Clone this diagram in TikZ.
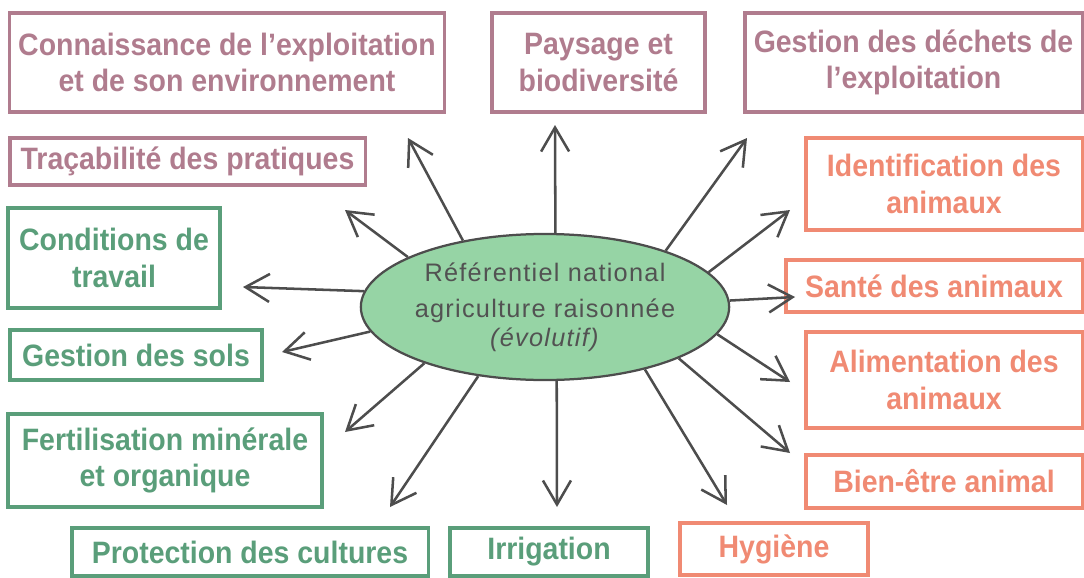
\documentclass[tikz,border=0pt]{standalone}
\usepackage{fontspec}
\usetikzlibrary{shapes.geometric,arrows.meta}
\newfontfamily\boxfont[FakeStretch=0.92]{Liberation Sans}
\newfontfamily\reffont[LetterSpace=5]{Liberation Sans}
\definecolor{mauve}{RGB}{176,124,142}
\definecolor{vert}{RGB}{90,158,122}
\definecolor{saumon}{RGB}{240,138,115}
\definecolor{ellfill}{RGB}{150,212,165}
\definecolor{fleche}{RGB}{77,77,77}
\begin{document}
\begin{tikzpicture}[x=0.025cm,y=-0.025cm]
\tikzstyle{every node}+=[inner sep=0pt]
\tikzstyle{box}=[draw, line width=2.2pt, align=center, font=\boxfont\bfseries\fontsize{22}{26}\selectfont]
\tikzstyle{fl}=[draw=fleche, line width=1.8pt, -{Straight Barb[length=6mm,width=7mm]}]
\useasboundingbox (0,0) rectangle (1084,578);
\node [ellipse, draw=fleche, line width=1.6pt, fill=ellfill, minimum width=9.1cm, minimum height=3.65cm, text=black!68, align=center, font=\reffont\fontsize{18}{26}\selectfont] (ref) at (545,307) {Référentiel national\\agriculture raisonnée\\[-6pt]\textit{(évolutif)}};
\node [box, draw=mauve, text=mauve, minimum width=10.85cm, minimum height=2.475cm] (conn) at (227,62.5) {Connaissance de l’exploitation\\et de son environnement};
\node [box, draw=mauve, text=mauve, minimum width=5.325cm, minimum height=2.475cm] (pays) at (598.5,62.5) {Paysage et\\biodiversité};
\node [box, draw=mauve, text=mauve, minimum width=8.425cm, minimum height=2.475cm] (dech) at (913.5,62.5) {Gestion des déchets de\\l’exploitation};
\node [box, draw=mauve, text=mauve, minimum width=8.875cm, minimum height=1.175cm] (trac) at (187.5,161.5) {Traçabilité des pratiques};
\node [box, draw=vert, text=vert, minimum width=5.3cm, minimum height=2.5cm] (cond) at (114,258) {Conditions de\\travail};
\node [box, draw=vert, text=vert, minimum width=6.3cm, minimum height=1.25cm] (sols) at (136,355) {Gestion des sols};
\node [box, draw=vert, text=vert, minimum width=7.85cm, minimum height=2.325cm] (fert) at (165,460.5) {Fertilisation minérale\\et organique};
\node [box, draw=vert, text=vert, minimum width=8.9cm, minimum height=1.2cm] (prot) at (250,552) {Protection des cultures};
\node [box, draw=vert, text=vert, minimum width=4.95cm, minimum height=1.2cm] (irri) at (549,552) {Irrigation};
\node [box, draw=saumon, text=saumon, minimum width=4.7cm, minimum height=1.3cm] (hyg) at (774,549) {Hygiène};
\node [box, draw=saumon, text=saumon, minimum width=6.9cm, minimum height=2.3cm] (iden) at (944,184) {Identification des\\animaux};
\node [box, draw=saumon, text=saumon, minimum width=7.4cm, minimum height=1.3cm] (sant) at (934,286) {Santé des animaux};
\node [box, draw=saumon, text=saumon, minimum width=6.9cm, minimum height=2.4cm] (alim) at (944,380) {Alimentation des\\animaux};
\node [box, draw=saumon, text=saumon, minimum width=6.9cm, minimum height=1.325cm] (bien) at (944,481.5) {Bien-être animal};
\coordinate (t-conn) at (408,138);
\coordinate (t-pays) at (555,125);
\coordinate (t-dech) at (747,138);
\coordinate (t-trac) at (345,210);
\coordinate (t-iden) at (790,210);
\coordinate (t-cond) at (243,287);
\coordinate (t-sant) at (795,297);
\coordinate (t-sols) at (282,352);
\coordinate (t-alim) at (790,382);
\coordinate (t-fert) at (345,432);
\coordinate (t-bien) at (790,453);
\coordinate (t-prot) at (390,507);
\coordinate (t-irri) at (557,507);
\coordinate (t-hyg) at (727,505);
\draw [fl] (ref.141) -- (t-conn);
\draw [fl] (ref.82) -- (t-pays);
\draw [fl] (ref.25) -- (t-dech);
\draw [fl] (ref.160) -- (t-trac);
\draw [fl] (ref.12.6) -- (t-iden);
\draw [fl] (ref.175) -- (t-cond);
\draw [fl] (ref.2) -- (t-sant);
\draw [fl] (ref.188) -- (t-sols);
\draw [fl] (ref.351.4) -- (t-alim);
\draw [fl] (ref.205.6) -- (t-fert);
\draw [fl] (ref.339) -- (t-bien);
\draw [fl] (ref.226.7) -- (t-prot);
\draw [fl] (ref.279.3) -- (t-irri);
\draw [fl] (ref.328.3) -- (t-hyg);
\end{tikzpicture}
\end{document}
